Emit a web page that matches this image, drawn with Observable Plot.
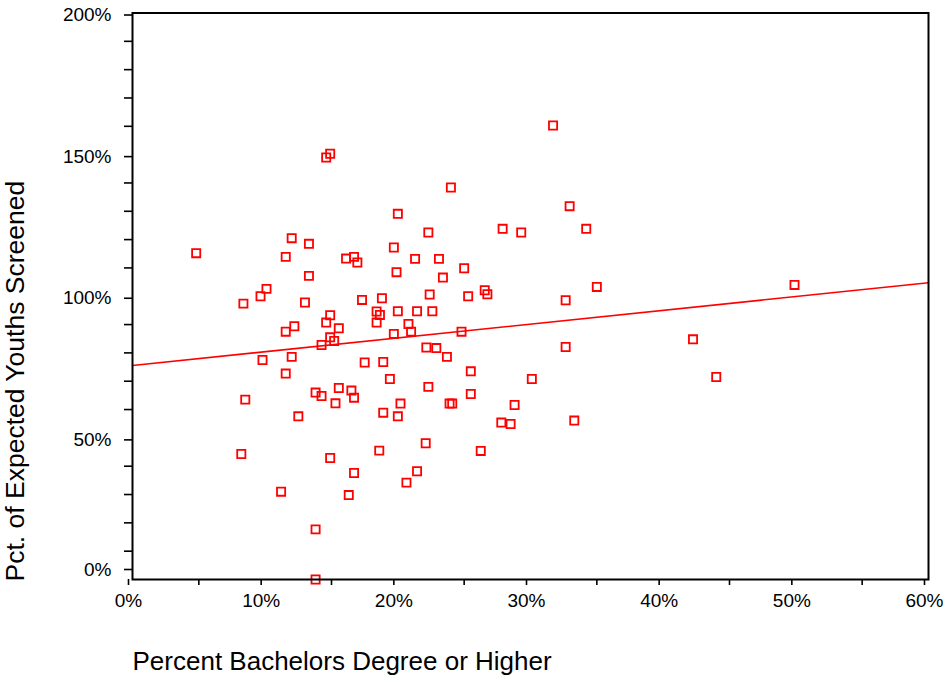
<!DOCTYPE html>
<html>
<head>
<meta charset="utf-8">
<script src="https://cdn.jsdelivr.net/npm/d3@7"></script>
<script src="https://cdn.jsdelivr.net/npm/@observablehq/plot@0.6"></script>
<style>
  html, body { margin: 0; padding: 0; background: #fff; }
  svg { display: block; }
</style>
</head>
<body>
<div id="chart"></div>
<script>
// Percent with bachelor's degree or higher (x) and pct of expected youths screened (y)
const bachelorsPct = [
  31.7, 32.95, 27.9, 29.3, 34.2, 35.0, 32.65, 49.9, 32.65, 42.25,
  30.1, 44.0, 28.8, 27.8, 28.5, 33.3, 24.0, 20.0, 22.3, 19.7,
  21.3, 23.1, 19.9, 23.4, 25.0, 18.8, 22.4, 25.3, 26.55, 26.75,
  20.0, 21.45, 22.6, 20.8, 19.7, 21.0, 24.8, 22.15, 22.9, 23.7,
  18.9, 25.5, 19.4, 22.3, 20.2, 25.5, 23.9, 24.1, 18.9, 20.0,
  18.6, 22.1, 26.25, 21.45, 20.65, 8.36, 9.65, 10.1, 13.0, 11.55,
  12.2, 14.9, 14.6, 15.55, 14.9, 15.2, 14.25, 17.3, 18.4, 18.65,
  18.4, 9.8, 12.0, 11.55, 17.5, 8.5, 13.8, 14.25, 15.55, 16.5,
  16.7, 15.3, 12.5, 8.2, 14.9, 16.7, 11.2, 16.3, 13.8, 13.8,
  14.6, 14.9, 4.8, 12.0, 13.3, 11.55, 13.3, 16.1, 16.7, 16.95
];
const screenedPct = [
  160.3, 131.8, 123.8, 122.5, 123.8, 103.3, 98.6, 104.0, 82.1, 84.8,
  70.8, 71.5, 61.6, 55.4, 54.9, 56.1, 138.4, 129.1, 122.5, 117.2,
  113.2, 113.2, 108.5, 106.6, 109.9, 99.3, 100.6, 100.0, 102.1, 100.7,
  94.7, 94.7, 94.7, 90.2, 86.7, 87.5, 87.5, 81.9, 81.7, 78.6,
  76.8, 73.5, 70.8, 68.0, 62.1, 65.5, 62.1, 62.1, 58.9, 57.6,
  45.5, 48.1, 45.4, 38.2, 34.2, 97.4, 100.0, 102.6, 97.8, 87.5,
  89.4, 93.3, 90.7, 88.7, 85.5, 84.2, 82.8, 98.7, 94.6, 93.4,
  90.7, 77.5, 78.6, 72.7, 76.6, 63.5, 66.0, 64.8, 67.6, 66.7,
  64.2, 62.2, 57.6, 44.3, 42.9, 37.6, 31.0, 29.8, 17.7, 0.0,
  149.0, 150.3, 115.2, 120.5, 118.5, 113.9, 107.2, 113.3, 113.9, 111.9
];
// Fitted linear regression line shown in the chart
const fitIntercept = 75.55;
const fitSlope = 0.487;

const xDomain = [0, 60];
const yDomain = [0, 200];
const xMajorTicks = [0, 10, 20, 30, 40, 50, 60];
const xMinorTicks = [5, 15, 25, 35, 45, 55];
const yLabelTicks = [50, 100, 150, 200];
const yZeroTick = [0];
const yMinorTicks = [10, 20, 30, 40, 60, 70, 80, 90, 110, 120, 130, 140, 160, 170, 180, 190];

const xTitle = "Percent Bachelors Degree or Higher";
const yTitle = "Pct. of Expected Youths Screened";

const points = bachelorsPct.map((x, i) => ({x, y: screenedPct[i]}));
const fitLine = xDomain.map(x => ({x, y: fitIntercept + fitSlope * x}));
const pct = d => d + "%";
const blank = () => "";

const chart = Plot.plot({
  width: 949,
  height: 682,
  marginLeft: 132,
  marginRight: 21,
  marginTop: 12.5,
  marginBottom: 103,
  style: {fontFamily: "'Liberation Sans', Arial, sans-serif", fontSize: "19px", color: "#000", background: "#fff"},
  x: {domain: xDomain},
  y: {domain: yDomain},
  marks: [
    Plot.line(fitLine, {x: "x", y: "y", stroke: "#ff0000", strokeWidth: 1.6}),
    Plot.dot(points, {x: "x", y: "y", symbol: "square", r: 4.6, stroke: "#ff0000", strokeWidth: 1.8, fill: "none"}),
    Plot.frame({stroke: "#000", strokeWidth: 2}),
    Plot.axisY(yMinorTicks, {tickSize: 8, tickFormat: blank, strokeWidth: 1.6, label: null}),
    Plot.axisY(yLabelTicks, {tickSize: 8, tickPadding: 13, tickFormat: pct, dy: 2, strokeWidth: 1.6, label: null}),
    Plot.axisY(yZeroTick, {tickSize: 8, tickPadding: 13, tickFormat: pct, dy: -10, strokeWidth: 1.6, label: null}),
    Plot.axisX(xMinorTicks, {tickSize: 6, tickFormat: blank, strokeWidth: 1.6, label: null}),
    Plot.axisX(xMajorTicks, {tickSize: 6, tickPadding: 8, tickFormat: pct, dx: -4, strokeWidth: 1.6, label: null}),
    Plot.text([xTitle], {frameAnchor: "bottom-left", textAnchor: "start", dy: 90, fontSize: 26}),
    Plot.text([yTitle], {frameAnchor: "bottom-left", textAnchor: "start", rotate: -90, dx: -108.5, dy: 2, fontSize: 26.5})
  ]
});
document.getElementById("chart").appendChild(chart);
</script>
</body>
</html>
